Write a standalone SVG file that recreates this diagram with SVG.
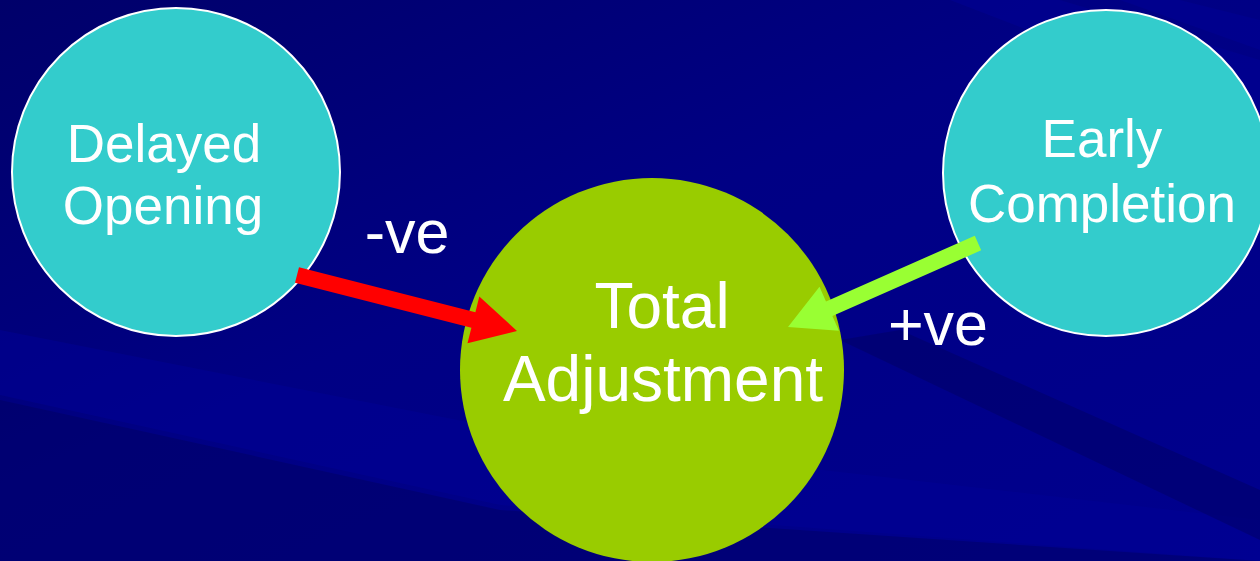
<svg xmlns="http://www.w3.org/2000/svg" width="1260" height="561" viewBox="0 0 1260 561">
  <defs>
    <linearGradient id="bg" x1="0" y1="0" x2="1" y2="1">
      <stop offset="0" stop-color="#00006A"/>
      <stop offset="0.45" stop-color="#000084"/>
      <stop offset="1" stop-color="#00008E"/>
    </linearGradient>
    <style>
      .band { fill: #000060; opacity: 0.45; }
      .lband { fill: #000096; opacity: 0.5; }
      .side { fill: #33CCCC; stroke: #FFFFFF; stroke-width: 2; }
      .hub { fill: #99CC00; }
      .lbl { font-family: "Liberation Sans", Arial, sans-serif; fill: #FFFFFF; text-anchor: middle; }
    </style>
  </defs>

  <g id="background">
    <rect x="0" y="0" width="1260" height="561" fill="url(#bg)"/>
    <polygon class="lband" points="0,330 0,395 500,505 1260,561 1260,520 560,440"/>
    <polygon class="band" points="0,400 0,561 1260,561 500,510"/>
    <polygon class="band" points="840,340 1260,540 1260,490 900,330"/>
    <polygon class="lband" points="950,0 1260,120 1260,60 1060,0"/>
    <polygon class="lband" points="1120,0 1260,50 1260,20 1180,0"/>
  </g>

  <g id="node-delayed-opening">
    <circle class="side" cx="176" cy="172" r="164"/>
    <text class="lbl" x="164" y="162" font-size="53">Delayed</text>
    <text class="lbl" x="163" y="224" font-size="53">Opening</text>
  </g>

  <g id="node-early-completion">
    <circle class="side" cx="1106" cy="173" r="163"/>
    <text class="lbl" x="1102" y="157" font-size="53">Early</text>
    <text class="lbl" x="1102" y="222" font-size="53">Completion</text>
  </g>

  <g id="node-total-adjustment">
    <circle class="hub" cx="652" cy="370" r="192"/>
    <text class="lbl" x="662" y="328" font-size="64">Total</text>
    <text class="lbl" x="663" y="401" font-size="64">Adjustment</text>
  </g>

  <g id="connectors">
    <polygon fill="#FF0000" points="299,267.2 475.4,312.2 479.3,296.6 517,331 467.5,343.2 471.4,327.7 295,282.8"/>
    <polygon fill="#99FF33" points="981.2,250.3 832.4,316.1 838.9,330.8 788,327 819.5,286.8 826,301.5 974.8,235.7"/>
    <text class="lbl" x="407" y="253" font-size="61">-ve</text>
    <text class="lbl" x="938" y="345" font-size="61">+ve</text>
  </g>
</svg>
